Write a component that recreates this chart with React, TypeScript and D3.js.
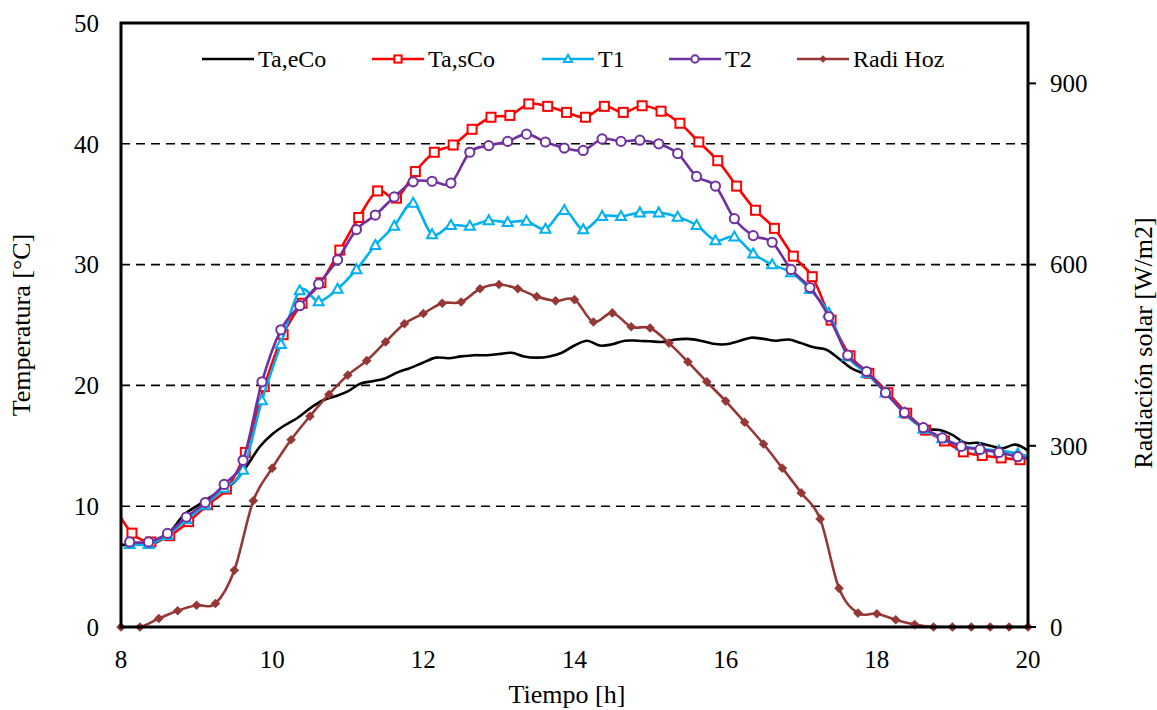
import React from "react";
import * as d3 from "d3";

// time grids [h]
const radTimes = d3.range(49).map((k) => 8 + k * 0.25);
const entradaTimes = d3.range(73).map((k) => 8 + k / 6);
const salidaTimes = d3.range(49).map((k) => 7.895 + k * 0.25);
const tTimes = d3.range(49).map((k) => 8.115 + k * 0.25);

// Ta,eCo [°C] (10 min)
const taEntrada = [
  6.8, 6.8, 6.85, 7.1, 8.0, 9.3, 10.0, 10.7, 11.3, 12.0, 13.35, 14.9, 15.95,
  16.7, 17.3, 18.1, 18.75, 19.1, 19.5, 20.15, 20.35, 20.6, 21.1, 21.45, 21.9,
  22.3, 22.25, 22.4, 22.5, 22.5, 22.6, 22.7, 22.4, 22.3, 22.4, 22.7, 23.3, 23.7,
  23.3, 23.4, 23.7, 23.7, 23.65, 23.6, 23.8, 23.85, 23.7, 23.45, 23.4, 23.65,
  23.95, 23.85, 23.7, 23.8, 23.5, 23.15, 22.95, 22.2, 21.4, 20.95, 20.3, 19.1,
  17.95, 16.95, 16.4, 16.3, 15.9, 15.25, 15.25, 15.0, 14.8, 15.1, 14.6,
];

// Ta,sCo [°C]
const taSalida = [
  10.2, 7.77, 7.04, 7.56, 8.72, 10.12, 11.42, 14.45, 19.9, 24.2, 26.8, 28.5,
  31.2, 33.9, 36.1, 35.5, 37.7, 39.3, 39.9, 41.2, 42.2, 42.35, 43.3, 43.1, 42.6,
  42.2, 43.1, 42.6, 43.15, 42.7, 41.7, 40.15, 38.6, 36.5, 34.5, 33.0, 30.7,
  29.0, 25.4, 22.45, 21.0, 19.4, 17.7, 16.3, 15.4, 14.5, 14.2, 14.0, 13.85,
];

const t1 = [
  6.85, 6.85, 7.6, 8.9, 10.1, 11.5, 13.0, 18.75, 23.4, 27.85, 26.95, 27.98,
  29.6, 31.6, 33.2, 35.1, 32.5, 33.25, 33.2, 33.65, 33.5, 33.6, 32.95, 34.5,
  32.9, 34.0, 34.0, 34.3, 34.3, 33.95, 33.25, 32.0, 32.3, 30.9, 30.0, 29.35,
  27.95, 26.0, 22.4, 21.0, 19.4, 17.7, 16.4, 15.6, 15.0, 14.75, 14.6, 14.35,
  13.9,
];

const t2 = [
  7.04, 7.04, 7.75, 9.1, 10.3, 11.8, 13.8, 20.3, 24.6, 26.6, 28.4, 30.4, 32.9,
  34.1, 35.6, 36.85, 36.9, 36.75, 39.3, 39.85, 40.2, 40.8, 40.15, 39.65, 39.45,
  40.4, 40.2, 40.3, 40.0, 39.2, 37.3, 36.5, 33.8, 32.4, 31.85, 29.6, 28.1, 25.7,
  22.5, 21.15, 19.4, 17.75, 16.5, 15.65, 14.95, 14.7, 14.45, 14.1, 13.8,
];

// Radi Hoz [W/m2]
const radiacion = [
  0, 0, 14, 27, 36, 39, 94, 209, 263, 310, 349, 385, 417, 441, 472, 502, 519,
  536, 538, 560, 567, 560, 547, 540, 542, 505, 520, 497, 495, 470, 439, 406,
  374, 339, 303, 263, 222, 179, 64, 23, 22, 12, 4, 0, 0, 0, 0, 0, 0,
];

const xTicks = [8, 10, 12, 14, 16, 18, 20];
const yTicks = [0, 10, 20, 30, 40, 50];
const gridTicks = [10, 20, 30, 40];
const rTicks = [0, 300, 600, 900];

const W = 1157;
const H = 710;
const L = 121;
const R = 1028;
const T = 23;
const B = 627;
const FONT = "Liberation Serif, Times New Roman, DejaVu Serif, serif";

type Marker = "none" | "square" | "triangle" | "circle" | "diamond";

function MarkerShape({ kind, x, y, color, s = 1 }: { kind: Marker; x: number; y: number; color: string; s?: number }) {
  if (kind === "square") {
    const h = 4.5 * s;
    return <rect x={x - h} y={y - h} width={2 * h} height={2 * h} fill="#fff" stroke={color} strokeWidth={2} />;
  }
  if (kind === "circle") {
    return <circle cx={x} cy={y} r={4.6 * s} fill="#fff" stroke={color} strokeWidth={2} />;
  }
  if (kind === "triangle") {
    const h = 5 * s;
    return (
      <path
        d={`M${x},${y - h * 1.05}L${x + h},${y + h * 0.75}L${x - h},${y + h * 0.75}Z`}
        fill="#fff"
        stroke={color}
        strokeWidth={2}
      />
    );
  }
  if (kind === "diamond") {
    const h = 4.8 * s;
    return <path d={`M${x},${y - h}L${x + h},${y}L${x},${y + h}L${x - h},${y}Z`} fill={color} />;
  }
  return null;
}

export default function App() {
  const x = d3.scaleLinear().domain([8, 20]).range([L, R]);
  const yT = d3.scaleLinear().domain([0, 50]).range([B, T]);
  const yR = d3.scaleLinear().domain([0, 1000]).range([B, T]);
  const curve = d3.curveCardinal.tension(0);

  const series = [
    { name: "Ta,eCo", times: entradaTimes, values: taEntrada, color: "#000000", marker: "none" as Marker, y: yT },
    { name: "Ta,sCo", times: salidaTimes, values: taSalida, color: "#FF0000", marker: "square" as Marker, y: yT },
    { name: "T1", times: tTimes, values: t1, color: "#00B0F0", marker: "triangle" as Marker, y: yT },
    { name: "T2", times: tTimes, values: t2, color: "#7030A0", marker: "circle" as Marker, y: yT },
    { name: "Radi Hoz", times: radTimes, values: radiacion, color: "#953735", marker: "diamond" as Marker, y: yR },
  ];

  const legendX = [202, 372, 542, 669, 797];
  const legendY = 59;
  const txt = { fontFamily: FONT };

  return (
    <svg width={W} height={H} style={{ position: "absolute", left: 0, top: 0, background: "#fff", fontFamily: FONT }}>
      <defs>
        <clipPath id="plot">
          <rect x={L} y={T} width={R - L} height={B - T} />
        </clipPath>
      </defs>
      <rect width={W} height={H} fill="#fff" />

      {gridTicks.map((t) => (
        <line key={t} x1={L} x2={R} y1={yT(t)} y2={yT(t)} stroke="#000" strokeWidth={1.6} strokeDasharray="9,6" />
      ))}

      {series.map((s) => {
        const pts = s.times.map((t, i) => [t, s.values[i]] as [number, number]);
        const line = d3
          .line<[number, number]>()
          .x((d) => x(d[0]))
          .y((d) => s.y(d[1]))
          .curve(curve);
        return (
          <g key={s.name}>
            <path d={line(pts) || ""} fill="none" stroke={s.color} strokeWidth={2.6} clipPath="url(#plot)" />
            {pts
              .filter((d) => d[0] >= 8 && d[0] <= 20.01)
              .map((d, i) => (
                <MarkerShape key={i} kind={s.marker} x={x(d[0])} y={s.y(d[1])} color={s.color} />
              ))}
          </g>
        );
      })}

      {/* frame */}
      <rect x={L} y={T} width={R - L} height={B - T} fill="none" stroke="#000" strokeWidth={3} />

      {yTicks.map((t) => (
        <text key={t} style={txt} x={99} y={yT(t)} dy="0.35em" textAnchor="end" fontSize={25}>
          {t}
        </text>
      ))}
      {rTicks.map((t) => (
        <g key={t}>
          <line x1={R} x2={R + 8} y1={yR(t)} y2={yR(t)} stroke="#000" strokeWidth={2} />
          <text style={txt} x={1050} y={yR(t)} dy="0.35em" textAnchor="start" fontSize={25}>
            {t}
          </text>
        </g>
      ))}
      {xTicks.map((t) => (
        <text key={t} style={txt} x={x(t)} y={668} textAnchor="middle" fontSize={25}>
          {t}
        </text>
      ))}

      <text style={txt} x={567} y={703} textAnchor="middle" fontSize={26}>
        Tiempo [h]
      </text>
      <text style={txt} transform={`translate(30,325) rotate(-90)`} textAnchor="middle" fontSize={26}>
        Temperatura [°C]
      </text>
      <text style={txt} transform={`translate(1152,343) rotate(-90)`} textAnchor="middle" fontSize={26}>
        Radiación solar [W/m2]
      </text>

      {series.map((s, i) => (
        <g key={s.name}>
          <line x1={legendX[i]} x2={legendX[i] + 52} y1={legendY} y2={legendY} stroke={s.color} strokeWidth={2.6} />
          <MarkerShape kind={s.marker} x={legendX[i] + 26} y={legendY} color={s.color} s={0.8} />
          <text style={txt} x={legendX[i] + 56} y={legendY + 8} fontSize={24}>
            {s.name}
          </text>
        </g>
      ))}
    </svg>
  );
}
